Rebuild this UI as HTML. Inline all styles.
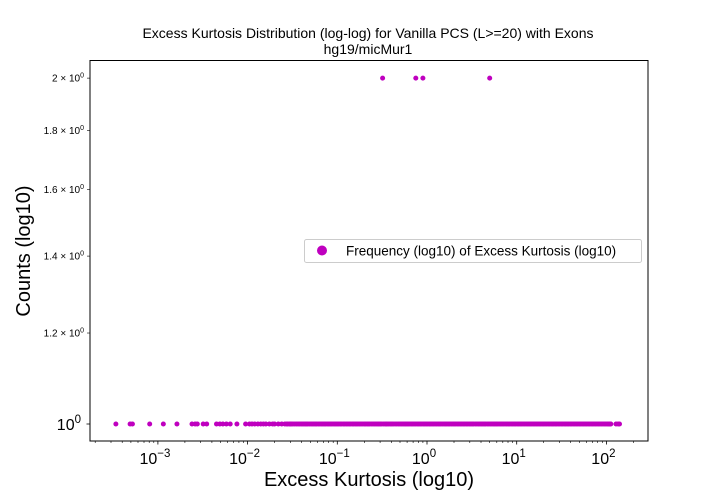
<!DOCTYPE html>
<html><head><meta charset="utf-8"><style>
html,body{margin:0;padding:0;background:#fff;}
svg{display:block;font-family:"Liberation Sans","DejaVu Sans",sans-serif;}
</style></head><body>
<svg id="chart" width="720" height="504" viewBox="0 0 720 504" xmlns="http://www.w3.org/2000/svg">
<rect x="0" y="0" width="720" height="504" fill="#fff"/>
<text x="368" y="38" text-anchor="middle" font-size="14">Excess Kurtosis Distribution (log-log) for Vanilla PCS (L&gt;=20) with Exons</text>
<text x="368" y="54" text-anchor="middle" font-size="14">hg19/micMur1</text>
<g id="ticks"></g>
<g id="marks"></g>
<rect x="90" y="60.5" width="558" height="380.5" fill="none" stroke="#000" stroke-width="1"/>
<text x="369" y="486" text-anchor="middle" font-size="20">Excess Kurtosis (log10)</text>
<text transform="translate(30,251) rotate(-90)" text-anchor="middle" font-size="20">Counts (log10)</text>
<g>
<rect x="304.5" y="239.5" width="337" height="23" rx="2" fill="#fff" stroke="#ccc"/>
<circle cx="322" cy="250.5" r="5" fill="#bf00bf"/>
<text x="346" y="255.5" font-size="13.5">Frequency (log10) of Excess Kurtosis (log10)</text>
</g>
</svg>
<script>
const xValsOne = [0.00034,0.00049,0.00052,0.00081,0.00115,0.00163,0.0024,0.0026,0.00275,0.0032,0.0035,0.0045,0.0049,0.0053,0.0058,0.0064,0.0076,
0.0095,0.0105,0.0112,0.012,0.013,0.014,0.015,0.016,0.0175,0.019,0.02,0.022,0.024,0.026,0.028,0.03,0.032,0.035,0.038,0.041,0.044,0.047,0.051,0.055,0.059,0.064,0.069,0.074,0.08,0.086,0.093,0.1,0.108,0.117,0.126,0.136,0.147,0.158,0.17,0.184,0.2,0.215,0.23,0.25,0.27,0.29,0.31,0.34,0.36,0.39,0.42,0.46,0.5,0.54,0.58,0.62,0.67,0.72,0.78,0.84,0.91,0.98,1.06,1.14,1.23,1.33,1.43,1.55,1.67,1.8,1.95,2.1,2.27,2.45,2.64,2.85,3.08,3.3,3.6,3.9,4.2,4.5,4.9,5.3,5.7,6.1,6.6,7.1,7.7,8.3,9,9.7,10.5,11.3,12.2,13.2,14.2,15.3,16.5,17.8,19.2,20.7,22.4,24.2,26,28,30.3,32.7,35.3,38,41,44.3,47.8,51.6,55.7,60,64.8,70,75.5,81.5,88,95,102,108,112,128,135,140];
const xValsOneExtra = [0.0272,0.0292,0.0308,0.0335,0.0365,0.0395,0.0425,0.0455,0.049,0.053,0.057,0.0615,0.0665,0.0715,0.077,0.083,0.0895,0.0965,0.104,0.112,0.121,0.131,0.141,0.152,0.164,0.177,0.192,0.207,0.222,0.24,0.26,0.28,0.3,0.325,0.35,0.375,0.405,0.44,0.48,0.52,0.56,0.6,0.645,0.695,0.75,0.81,0.875,0.945,1.02,1.1,1.185,1.28,1.38,1.49,1.61,1.735,1.875,2.02,2.185,2.36,2.545,2.745,2.965,3.19,3.45,3.75,4.05,4.35,4.7,5.1,5.5,5.9,6.35,6.85,7.4,8,8.65,9.35,10.1,10.9,11.75,12.7,13.7,14.75,15.9,17.15,18.5,19.95,21.55,23.3,25.1,27,29.1,31.5,34,36.6,39.5,42.6,46,49.7,53.6,57.8,62.4,67.4,72.7,78.5,84.7,91.5,98.5,105,110];
const xValsTwo = [0.32,0.75,0.9,5.0];
const countOne = 1;
const countTwo = 2;
const xMajorExps = [-3,-2,-1,0,1,2];
const yTickVals = [1.2,1.4,1.6,1.8,2];
const yTickLabels = ["1.2","1.4","1.6","1.8","2"];

const NS="http://www.w3.org/2000/svg";
function xs(v){return 427+89.7*Math.log10(v);}
function ys(v){return 424-1149*Math.log10(v);}
const marks=document.getElementById('marks');
const ticks=document.getElementById('ticks');
function mk(tag,attrs,parent){const e=document.createElementNS(NS,tag);for(const k in attrs)e.setAttribute(k,attrs[k]);parent.appendChild(e);return e;}
function dot(v,c){
  const e=mk('circle',{cx:xs(v),cy:ys(c),r:2.5,fill:'#bf00bf'},marks);
  
  
}
xValsOne.forEach(v=>dot(v,countOne));
xValsOneExtra.forEach(v=>dot(v,countOne));
xValsTwo.forEach(v=>dot(v,countTwo));
for(let e=-4;e<=2;e++){
  for(let m=1;m<10;m++){
    const v=m*Math.pow(10,e);const x=xs(v);
    if(x<90||x>648)continue;
    const major=m===1;
    const t=mk('line',{x1:x,x2:x,y1:441,y2:441+(major?3.5:2),stroke:'#000','stroke-width':major?0.8:0.6},ticks);
    
    
  }
}
xMajorExps.forEach(e=>{
  const t=mk('text',{x:xs(Math.pow(10,e))-3,y:464,'text-anchor':'middle','font-size':16},ticks);
  
  
  t.textContent='10';
  const s=mk('tspan',{dy:-7,'font-size':11.5},t);s.textContent=String(e).replace('-','\u2212');
});
yTickVals.forEach((v,i)=>{
  const y=ys(v);
  const l=mk('line',{x1:90,x2:87,y1:y,y2:y,stroke:'#000','stroke-width':0.6},ticks);
  
  
  const t=mk('text',{x:84,y:y+3.5,'text-anchor':'end','font-size':10},ticks);
  
  
  t.textContent=yTickLabels[i]+' \u00d7 10';
  const s=mk('tspan',{dy:-4,'font-size':7},t);s.textContent='0';
});
const l0=mk('line',{x1:90,x2:86.5,y1:ys(1),y2:ys(1),stroke:'#000','stroke-width':0.8},ticks);


const t0=mk('text',{x:81,y:ys(1)+6,'text-anchor':'end','font-size':16},ticks);


t0.textContent='10';
const s0=mk('tspan',{dy:-7,'font-size':11.5},t0);s0.textContent='0';
</script>
</body></html>
